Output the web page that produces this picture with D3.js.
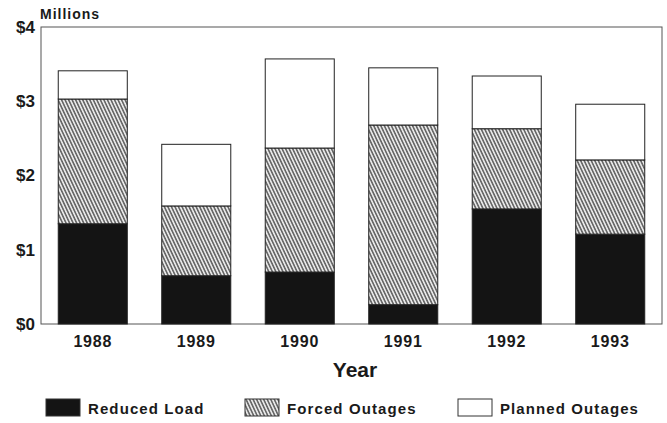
<!DOCTYPE html>
<html>
<head>
<meta charset="utf-8">
<script src="https://cdn.jsdelivr.net/npm/d3@7"></script>
<style>
body{margin:0;background:#fff;overflow:hidden;}
text{font-family:"Liberation Sans",Arial,sans-serif;font-weight:bold;fill:#1a1a1a;}
</style>
</head>
<body>
<div id="chart"></div>
<script>
var years=['1988','1989','1990','1991','1992','1993'];
var reducedLoad=[1.35,0.65,0.70,0.26,1.55,1.21];
var forcedOutages=[1.68,0.94,1.67,2.42,1.08,1.00];
var plannedOutages=[0.38,0.83,1.20,0.77,0.71,0.75];
var yTicks=[0,1,2,3,4];
var seriesNames=['Reduced Load','Forced Outages','Planned Outages'];

function drawChart(){
    var W=667,H=423;
    var mLeft=41,mRight=662,mTop=27,mBottom=324;

    var svg=d3.select('#chart').append('svg')
        .attr('width',W).attr('height',H);

    var defs=svg.append('defs');
    var pat=defs.append('pattern')
        .attr('id','hatch')
        .attr('patternUnits','userSpaceOnUse')
        .attr('width',3.2).attr('height',4)
        .attr('patternTransform','rotate(-25)');
    pat.append('rect').attr('width',3.2).attr('height',4).attr('fill','#e8e8e8');
    pat.append('line').attr('x1',0.8).attr('y1',0).attr('x2',0.8).attr('y2',4)
        .attr('stroke','#555').attr('stroke-width',1.4);

    var x=d3.scaleBand().domain(years).range([mLeft,mRight])
        .paddingInner(0.333).paddingOuter(0.1667);
    var y=d3.scaleLinear().domain([0,4]).range([mBottom,mTop]);

    var rows=years.map(function(yr,i){
        return {year:yr,r:reducedLoad[i],f:forcedOutages[i],p:plannedOutages[i]};
    });
    var stack=d3.stack().keys(['r','f','p'])(rows);
    var fills=['#141414','url(#hatch)','#fff'];

    // frame
    svg.append('rect')
        .attr('x',mLeft).attr('y',mTop)
        .attr('width',mRight-mLeft).attr('height',mBottom-mTop)
        .attr('fill','none').attr('stroke','#555').attr('stroke-width',1);

    stack.forEach(function(layer,k){
        svg.append('g').selectAll('rect').data(layer).enter().append('rect')
            .attr('x',function(d){return x(d.data.year);})
            .attr('width',x.bandwidth())
            .attr('y',function(d){return y(d[1]);})
            .attr('height',function(d){return y(d[0])-y(d[1]);})
            .attr('fill',fills[k])
            .attr('stroke','#222').attr('stroke-width',1);
    });

    // y labels
    var yAxis=d3.axisLeft(y).tickValues(yTicks)
        .tickFormat(function(d){return '$'+d;}).tickSize(0).tickPadding(6);
    var ya=svg.append('g').attr('transform','translate('+mLeft+',0)').call(yAxis);
    ya.select('.domain').remove();
    ya.selectAll('text').style('font-size','17px').attr('fill','#1a1a1a')
        .style('font-family','"Liberation Sans",Arial,sans-serif').style('font-weight','bold');

    var xAxis=d3.axisBottom(x).tickSize(0).tickPadding(12);
    var xa=svg.append('g').attr('transform','translate(0,'+mBottom+')').call(xAxis);
    xa.select('.domain').remove();
    xa.selectAll('text').style('font-size','16px').attr('fill','#1a1a1a')
        .style('font-family','"Liberation Sans",Arial,sans-serif').style('font-weight','bold')
        .style('letter-spacing','0.8px');

    svg.append('text').attr('x',40).attr('y',19)
        .style('font-size','14px').style('letter-spacing','1px').text('Millions');

    svg.append('text').attr('x',355).attr('y',377)
        .attr('text-anchor','middle').style('font-size','21px').text('Year');

    // legend
    var legX=[46,245,458];
    var legend=svg.append('g').selectAll('g').data(seriesNames).enter().append('g')
        .attr('transform',function(d,i){return 'translate('+legX[i]+',399)';});
    legend.append('rect').attr('width',34).attr('height',17)
        .attr('fill',function(d,i){return fills[i];})
        .attr('stroke','#333').attr('stroke-width',1);
    legend.append('text').attr('x',42).attr('y',15)
        .style('font-size','15px').style('letter-spacing','1.1px')
        .text(function(d){return d;});
}
drawChart();
</script>
</body>
</html>
